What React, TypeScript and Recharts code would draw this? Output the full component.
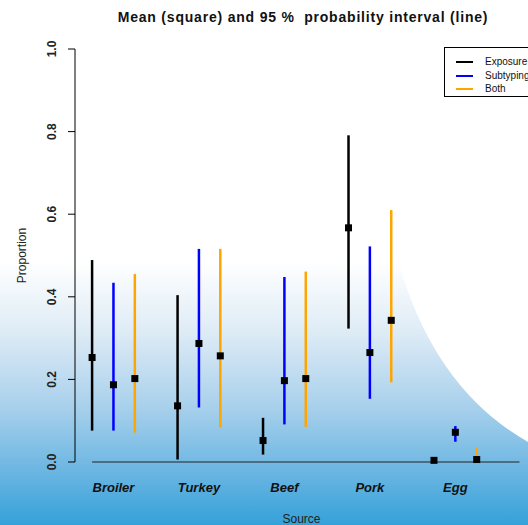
import { ComposedChart, Scatter, ErrorBar, XAxis, YAxis, ReferenceLine } from "recharts";

const categories = ["Broiler", "Turkey", "Beef", "Pork", "Egg"];
const seriesNames = ["Exposure", "Subtyping", "Both"];
const seriesColors = ["#000000", "#0000ff", "#ffa500"];

const exposureMean = [0.253, 0.136, 0.052, 0.567, 0.004];
const exposureLow = [0.076, 0.006, 0.018, 0.323, 0.0];
const exposureHigh = [0.489, 0.404, 0.107, 0.791, 0.01];

const subtypingMean = [0.187, 0.287, 0.197, 0.265, 0.072];
const subtypingLow = [0.076, 0.132, 0.091, 0.153, 0.049];
const subtypingHigh = [0.434, 0.516, 0.448, 0.522, 0.087];

const bothMean = [0.202, 0.257, 0.202, 0.343, 0.006];
const bothLow = [0.071, 0.084, 0.085, 0.193, 0.0];
const bothHigh = [0.455, 0.516, 0.461, 0.61, 0.036];

const yTicks = [0, 0.2, 0.4, 0.6, 0.8, 1.0];

// position of each series inside a category group
const offsets = [-0.25, 0, 0.25];

const makeSeries = (mean: number[], low: number[], high: number[], k: number) =>
  mean.map((m, i) => ({
    x: i + offsets[k],
    y: m,
    err: [m - low[i], high[i] - m],
  }));

const series = [
  makeSeries(exposureMean, exposureLow, exposureHigh, 0),
  makeSeries(subtypingMean, subtypingLow, subtypingHigh, 1),
  makeSeries(bothMean, bothLow, bothHigh, 2),
];

const font = "'Liberation Sans', Arial, sans-serif";

const Square = (props: any) => {
  const { cx, cy } = props;
  if (cx == null || cy == null) return null;
  return <rect x={cx - 3.5} y={cy - 3.5} width={7} height={7} fill="#000" />;
};

const YTick = (props: any) => {
  const { y, payload } = props;
  const x = 56;
  return (
    <text
      x={x}
      y={y}
      transform={`rotate(-90, ${x}, ${y})`}
      textAnchor="middle"
      fontFamily={font}
      fontWeight="bold"
      fontSize={12}
      fill="#222"
    >
      {payload.value.toFixed(1)}
    </text>
  );
};

const XTick = (props: any) => {
  const { x, y, payload } = props;
  return (
    <text
      x={x}
      y={y + 22}
      textAnchor="middle"
      fontFamily={font}
      fontWeight="bold"
      fontStyle="italic"
      fontSize={13}
      fill="#111"
    >
      {categories[payload.value]}
    </text>
  );
};

const YLabel = (props: any) => {
  const vb = props.viewBox || {};
  const cy = (vb.y ?? 49) + (vb.height ?? 413) / 2;
  const x = 26;
  return (
    <text
      x={x}
      y={cy}
      transform={`rotate(-90, ${x}, ${cy})`}
      textAnchor="middle"
      fontFamily={font}
      fontSize={12}
      fill="#222"
    >
      Proportion
    </text>
  );
};

export default function App() {
  return (
    <div
      style={{
        position: "absolute",
        left: 0,
        top: 0,
        width: 528,
        height: 525,
        overflow: "hidden",
        background:
          "linear-gradient(to bottom, #ffffff 0px, #ffffff 262px, #dfecf6 330px, #aad1ec 405px, #6cb6e2 470px, #35a1d9 525px)",
        fontFamily: font,
      }}
    >
      <svg width={528} height={525} style={{ position: "absolute", left: 0, top: 0 }}>
        <path d="M398 240 L403 277 Q 440 392 528 442 L528 240 Z" fill="#ffffff" />
      </svg>
      <div
        style={{
          position: "absolute",
          left: 0,
          width: 606,
          top: 9,
          textAlign: "center",
          fontWeight: "bold",
          fontSize: 14,
          letterSpacing: 0.8,
          color: "#111",
          whiteSpace: "pre",
        }}
      >
        {"Mean (square) and 95 %  probability interval (line)"}
      </div>
      <div style={{ position: "absolute", left: 0, top: 0 }}>
        <ComposedChart width={528} height={525} margin={{ top: 49, right: 0, bottom: 1, left: 0 }}>
          <XAxis
            type="number"
            dataKey="x"
            domain={[-0.45, 4.85]}
            ticks={[0, 1, 2, 3, 4]}
            axisLine={false}
            tickLine={false}
            tick={<XTick />}
            height={62}
            interval={0}
            allowDataOverflow
            label={{ value: "Source", position: "insideBottom", offset: 1, fontSize: 12, fill: "#222", fontFamily: font }}
          />
          <YAxis
            type="number"
            domain={[0, 1]}
            ticks={yTicks}
            width={75}
            tickSize={7}
            axisLine={{ stroke: "#000", strokeWidth: 1 }}
            tickLine={{ stroke: "#000", strokeWidth: 1 }}
            tick={<YTick />}
            interval={0}
            label={<YLabel />}
          />
          <ReferenceLine
            segment={[
              { x: -0.25, y: 0 },
              { x: 4.75, y: 0 },
            ]}
            stroke="#222"
            strokeWidth={1.2}
          />
          {series.map((data, k) => (
            <Scatter
              key={seriesNames[k]}
              name={seriesNames[k]}
              data={data}
              dataKey="y"
              shape={<Square />}
              isAnimationActive={false}
            >
              <ErrorBar
                dataKey="err"
                direction="y"
                width={0}
                stroke={seriesColors[k]}
                strokeWidth={2.5}
                isAnimationActive={false}
              />
            </Scatter>
          ))}
        </ComposedChart>
      </div>
      <div
        style={{
          position: "absolute",
          left: 444,
          top: 47,
          width: 100,
          height: 50,
          border: "1px solid #000",
          background: "#fff",
          boxSizing: "border-box",
        }}
      >
        {seriesNames.map((n, k) => (
          <div key={n} style={{ position: "absolute", left: 11, top: 8 + k * 13.5, height: 12, display: "flex", alignItems: "center" }}>
            <div style={{ width: 17, height: 2, background: seriesColors[k] }} />
            <span style={{ marginLeft: 12, fontSize: 10, color: "#111", lineHeight: "12px" }}>{n}</span>
          </div>
        ))}
      </div>
    </div>
  );
}
